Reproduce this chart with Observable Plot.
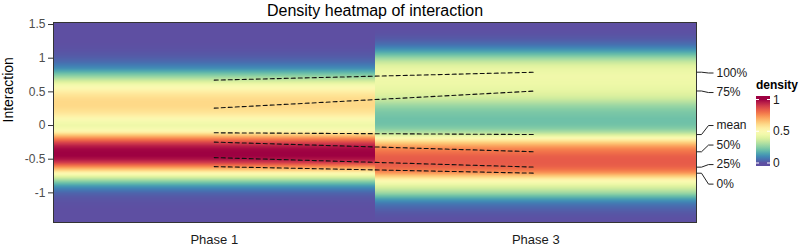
<!DOCTYPE html>
<html>
<head>
<meta charset="utf-8">
<script src="https://cdn.jsdelivr.net/npm/d3@7"></script>
<script src="https://cdn.jsdelivr.net/npm/@observablehq/plot@0.6"></script>
<style>
  html, body { margin: 0; padding: 0; background: #fff; }
  #chart svg { display: block; }
</style>
</head>
<body>
<div id="chart"></div>
<script>
// Phase columns (x positions 1 and 2 on the x axis)
const phases = ["Phase 1", "Phase 3"];

// Vertical sample positions of the density profiles (top to bottom)
const gridY = [
  1.55, 1.50, 1.45, 1.40, 1.35, 1.30, 1.25, 1.20, 1.15, 1.10, 1.05, 1.00,
  0.95, 0.90, 0.85, 0.80, 0.75, 0.70, 0.65, 0.60, 0.55, 0.50, 0.45, 0.40,
  0.35, 0.30, 0.25, 0.20, 0.15, 0.10, 0.05, 0.00, -0.05, -0.10, -0.15, -0.20,
  -0.25, -0.30, -0.35, -0.40, -0.45, -0.50, -0.55, -0.60, -0.65, -0.70, -0.75,
  -0.80, -0.85, -0.90, -0.95, -1.00, -1.05, -1.10, -1.15, -1.20, -1.25, -1.30,
  -1.35, -1.40, -1.45
];

// Scaled density of the interaction values, Phase 1
const densityPhase1 = [
  0, 0, 0, 0, 0, 0, 0, 0.002, 0.005, 0.01, 0.017, 0.03,
  0.048, 0.075, 0.11, 0.17, 0.24, 0.31, 0.39, 0.46, 0.51, 0.55, 0.58, 0.60,
  0.61, 0.61, 0.60, 0.58, 0.55, 0.50, 0.46, 0.44, 0.47, 0.55, 0.67, 0.78,
  0.88, 0.95, 0.99, 1.00, 1.00, 0.97, 0.90, 0.78, 0.66, 0.53, 0.42,
  0.31, 0.21, 0.13, 0.075, 0.04, 0.02, 0.01, 0.005, 0.002, 0, 0,
  0, 0, 0
];

// Scaled density of the interaction values, Phase 3
const densityPhase3 = [
  0, 0, 0, 0.003, 0.008, 0.018, 0.035, 0.06, 0.10, 0.15, 0.21, 0.28,
  0.34, 0.39, 0.42, 0.435, 0.445, 0.445, 0.44, 0.435, 0.425, 0.41, 0.39, 0.36,
  0.32, 0.28, 0.25, 0.23, 0.22, 0.21, 0.21, 0.22, 0.25, 0.31, 0.41, 0.53,
  0.63, 0.71, 0.77, 0.80, 0.83, 0.84, 0.84, 0.83, 0.80, 0.74, 0.64,
  0.54, 0.46, 0.40, 0.34, 0.28, 0.20, 0.13, 0.08, 0.05, 0.03, 0.015,
  0.007, 0.003, 0
];

// Summary statistics joined between the two phases
const statLabels = ["100%", "75%", "mean", "50%", "25%", "0%"];
const statPhase1 = [0.674, 0.258, -0.108, -0.246, -0.476, -0.610];
const statPhase3 = [0.792, 0.513, -0.134, -0.390, -0.618, -0.708];
// Repelled label positions on the right-hand side
const statLabelY = [0.78, 0.49, 0.0, -0.29, -0.58, -0.87];

// Axis ticks
const yTicks = [-1, -0.5, 0, 0.5, 1, 1.5];
const legendTicks = [0, 0.5, 1];

const yDomain = [-1.44, 1.53];
const fontFamily = "'Liberation Sans', Arial, Helvetica, sans-serif";

// Raster samples: each phase column spans x ± 0.5 around its centre
function columnSamples(center, values) {
  const out = [];
  for (const dx of [-0.5, 0.5]) {
    gridY.forEach((y, i) => out.push({x: center + dx, y, d: values[i]}));
  }
  return out;
}
const rasterP1 = columnSamples(1, densityPhase1);
const rasterP3 = columnSamples(2, densityPhase3);

const statLines = [];
statLabels.forEach((q, i) => {
  statLines.push({q, x: 1, y: statPhase1[i]});
  statLines.push({q, x: 2, y: statPhase3[i]});
});
const statEnds = statLabels.map((q, i) => ({q, y: statPhase3[i], ly: statLabelY[i]}));

// Leader line: short horizontal stub, a slanted segment, then a horizontal run to the label
function leaderCurve(context) {
  let pts = [];
  return {
    areaStart() {}, areaEnd() {},
    lineStart() { pts = []; },
    point(x, y) { pts.push([+x, +y]); },
    lineEnd() {
      if (pts.length < 2) return;
      const [x0, y0] = pts[0];
      const y1 = pts[pts.length - 1][1];
      context.moveTo(x0, y0);
      context.lineTo(x0 + 5, y0);
      context.lineTo(x0 + 12, y1);
      context.lineTo(x0 + 17, y1);
    }
  };
}

const chart = Plot.plot({
  width: 800,
  height: 247,
  marginLeft: 53,
  marginRight: 104,
  marginTop: 22,
  marginBottom: 25,
  style: {fontFamily, background: "#fff"},
  x: {domain: [0.5, 2.5]},
  y: {domain: yDomain},
  color: {type: "linear", scheme: "spectral", reverse: true, domain: [0, 1]},
  marks: [
    Plot.raster(rasterP1, {x: "x", y: "y", fill: "d", x1: 0.5, x2: 1.5, y1: yDomain[0], y2: yDomain[1], interpolate: "barycentric"}),
    Plot.raster(rasterP3, {x: "x", y: "y", fill: "d", x1: 1.5, x2: 2.5, y1: yDomain[0], y2: yDomain[1], interpolate: "barycentric"}),
    Plot.line(statLines, {x: "x", y: "y", z: "q", stroke: "#111", strokeWidth: 1.1, strokeDasharray: "4,3"}),
    Plot.frame({stroke: "#333", strokeWidth: 1}),
    Plot.axisY({ticks: yTicks, tickFormat: (d) => String(d), tickSize: 5, tickPadding: 3, fontSize: 12, stroke: "#333", fill: "#4d4d4d", label: null}),
    Plot.axisX({ticks: [1, 2], tickFormat: (d) => phases[d - 1], tickSize: 0, tickPadding: 12, fontSize: 13, fill: "#1a1a1a", label: null}),
    Plot.link(statEnds, {x1: 2.5, x2: 2.5, y1: "y", y2: "ly", stroke: "#222", strokeWidth: 1, curve: leaderCurve}),
    Plot.text(statEnds, {x: 2.5, y: "ly", text: "q", dx: 20, textAnchor: "start", fontSize: 12, fill: "#1a1a1a"}),
    Plot.text(["Density heatmap of interaction"], {text: (d) => d, frameAnchor: "top", lineAnchor: "middle", dy: -12, fontSize: 16, fill: "#000"}),
    Plot.text(["Interaction"], {text: (d) => d, frameAnchor: "left", rotate: -90, dx: -45, fontSize: 14, fill: "#000"})
  ]
});

// Colour bar legend for the density scale
const svg = d3.select(chart);
const legendScale = d3.scaleLinear().domain([0, 1]).range([163, 99.5]);
const color = chart.scale("color");
const bar = {x: 756, w: 14, top: 96, bottom: 166};
const defs = svg.append("defs");
const grad = defs.append("linearGradient")
  .attr("id", "density-gradient")
  .attr("gradientUnits", "userSpaceOnUse")
  .attr("x1", 0).attr("x2", 0)
  .attr("y1", legendScale(0)).attr("y2", legendScale(1));
d3.range(0, 1.0001, 0.05).forEach((t) => {
  grad.append("stop").attr("offset", t).attr("stop-color", color.apply(t));
});
const legend = svg.append("g").attr("font-family", fontFamily).attr("text-anchor", "start");
legend.append("text")
  .attr("x", bar.x).attr("y", 89)
  .attr("font-size", 12).attr("font-weight", "bold").attr("fill", "#000")
  .text("density");
legend.append("rect")
  .attr("x", bar.x).attr("y", bar.top)
  .attr("width", bar.w).attr("height", bar.bottom - bar.top)
  .attr("fill", "url(#density-gradient)");
legendTicks.forEach((t) => {
  const y = legendScale(t);
  legend.append("line").attr("x1", bar.x).attr("x2", bar.x + 3).attr("y1", y).attr("y2", y)
    .attr("stroke", "#fff").attr("stroke-width", 1);
  legend.append("line").attr("x1", bar.x + bar.w - 3).attr("x2", bar.x + bar.w).attr("y1", y).attr("y2", y)
    .attr("stroke", "#fff").attr("stroke-width", 1);
  legend.append("text")
    .attr("x", bar.x + bar.w + 3).attr("y", y).attr("dy", "0.35em")
    .attr("font-size", 12).attr("fill", "#1a1a1a")
    .text(String(t));
});

document.getElementById("chart").appendChild(chart);
</script>
</body>
</html>
